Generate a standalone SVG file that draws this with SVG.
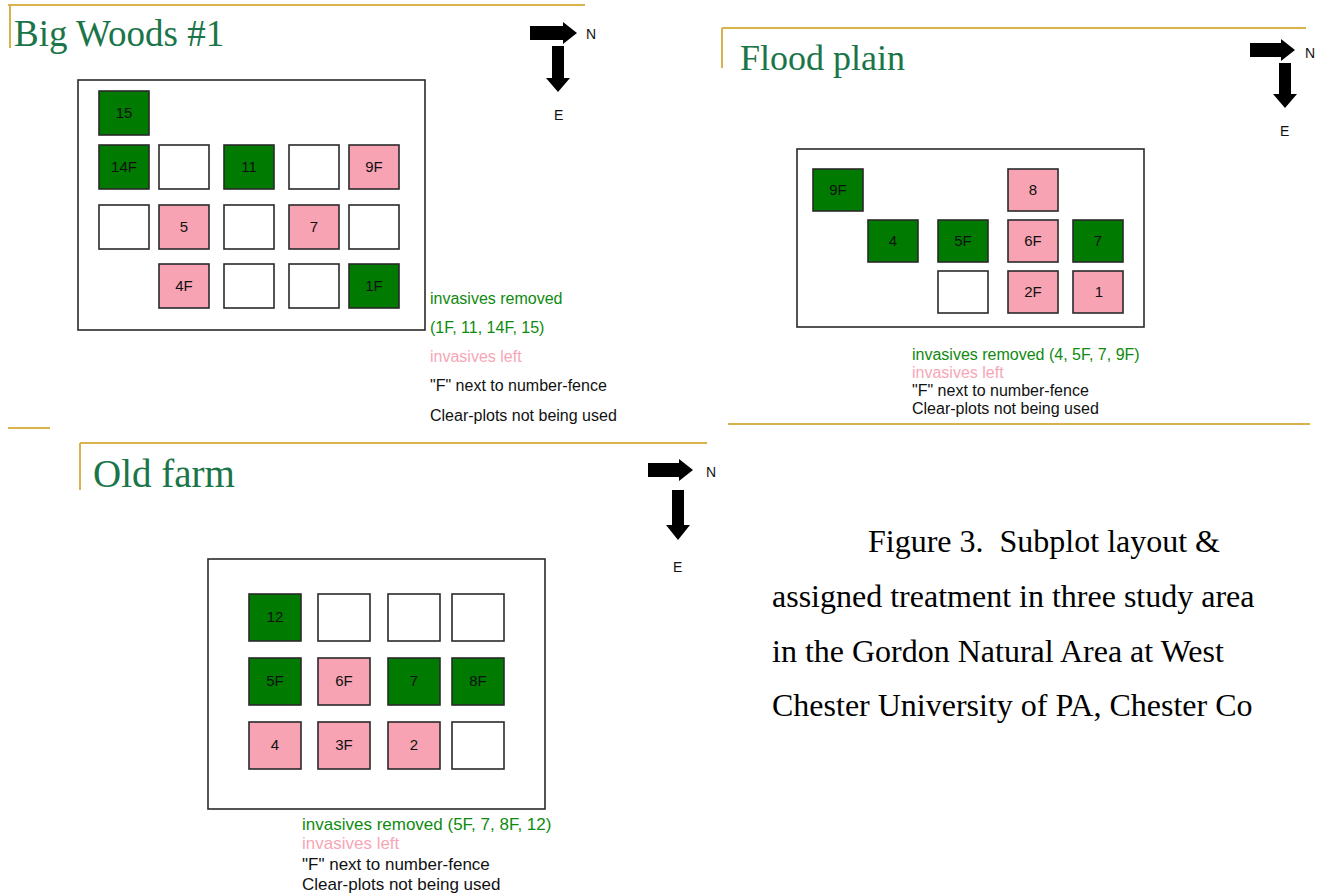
<svg xmlns="http://www.w3.org/2000/svg" width="1324" height="894" viewBox="0 0 1324 894">
<style>
.bg{fill:#ffffff}
.gold{stroke:#d8b24a;stroke-width:2;fill:none}
.title{font-family:"Liberation Serif",serif;fill:#1a7548}
.frame{fill:#ffffff;stroke:#2a2a2a;stroke-width:1.6}
.gr{fill:#007a00;stroke:#2a2a2a;stroke-width:1.6}
.pk{fill:#f8a3b3;stroke:#2a2a2a;stroke-width:1.6}
.em{fill:#ffffff;stroke:#2a2a2a;stroke-width:1.6}
.lbl{font-family:"Liberation Sans",Arial,sans-serif;font-size:15px;fill:#111;text-anchor:middle}
.leg{font-family:"Liberation Sans",Arial,sans-serif;font-size:16px}
.lg{fill:#0f8a0f}
.lp{fill:#f7a6b6}
.lk{fill:#111}
.arr{fill:#000}
.cmp{font-family:"Liberation Sans",Arial,sans-serif;font-size:14px;fill:#111}
.cap{font-family:"Liberation Serif","Times New Roman",serif;font-size:32px;fill:#000;white-space:pre}
</style>
<rect class="bg" x="0" y="0" width="1324" height="894"/>

<!-- Big Woods #1 -->
<g id="big-woods">
  <path class="gold" d="M8 5 H585 M10 5 V48"/>
  <text class="title" x="14" y="46" font-size="37">Big Woods #1</text>
  <g id="bw-compass">
    <polygon class="arr" points="530,26 563,26 563,22 577,33 563,44 563,40 530,40"/>
    <polygon class="arr" points="552,46 564,46 564,78 570,78 558,92 546,78 552,78"/>
    <text class="cmp" x="586" y="39">N</text>
    <text class="cmp" x="554" y="120">E</text>
  </g>
  <rect class="frame" x="78" y="80" width="347" height="250"/>
  <g id="bw-15"><rect class="gr" x="99" y="91" width="50" height="44"/><text class="lbl" x="124" y="118">15</text></g>
  <g id="bw-14F"><rect class="gr" x="99" y="145" width="50" height="44"/><text class="lbl" x="124" y="172">14F</text></g>
  <g id="bw-r2c2"><rect class="em" x="159" y="145" width="50" height="44"/></g>
  <g id="bw-11"><rect class="gr" x="224" y="145" width="50" height="44"/><text class="lbl" x="249" y="172">11</text></g>
  <g id="bw-r2c4"><rect class="em" x="289" y="145" width="50" height="44"/></g>
  <g id="bw-9F"><rect class="pk" x="349" y="145" width="50" height="44"/><text class="lbl" x="374" y="172">9F</text></g>
  <g id="bw-r3c1"><rect class="em" x="99" y="205" width="50" height="44"/></g>
  <g id="bw-5"><rect class="pk" x="159" y="205" width="50" height="44"/><text class="lbl" x="184" y="232">5</text></g>
  <g id="bw-r3c3"><rect class="em" x="224" y="205" width="50" height="44"/></g>
  <g id="bw-7"><rect class="pk" x="289" y="205" width="50" height="44"/><text class="lbl" x="314" y="232">7</text></g>
  <g id="bw-r3c5"><rect class="em" x="349" y="205" width="50" height="44"/></g>
  <g id="bw-4F"><rect class="pk" x="159" y="264" width="50" height="44"/><text class="lbl" x="184" y="291">4F</text></g>
  <g id="bw-r4c3"><rect class="em" x="224" y="264" width="50" height="44"/></g>
  <g id="bw-r4c4"><rect class="em" x="289" y="264" width="50" height="44"/></g>
  <g id="bw-1F"><rect class="gr" x="349" y="264" width="50" height="44"/><text class="lbl" x="374" y="291">1F</text></g>
  <g id="bw-legend" class="leg">
    <text class="lg" x="430" y="304">invasives removed</text>
    <text class="lg" x="430" y="333">(1F, 11, 14F, 15)</text>
    <text class="lp" x="430" y="362">invasives left</text>
    <text class="lk" x="430" y="391">"F" next to number-fence</text>
    <text class="lk" x="430" y="421">Clear-plots not being used</text>
  </g>
</g>
<path class="gold" d="M8 428 H50"/>

<!-- Flood plain -->
<g id="flood-plain">
  <path class="gold" d="M722 28 H1306 M722 28 V68"/>
  <path class="gold" d="M728 424 H1310"/>
  <text class="title" x="740" y="70" font-size="36">Flood plain</text>
  <g id="fp-compass">
    <polygon class="arr" points="1250,43 1281,43 1281,39 1295,50 1281,61 1281,57 1250,57"/>
    <polygon class="arr" points="1279,63 1291,63 1291,94 1297,94 1285,108 1273,94 1279,94"/>
    <text class="cmp" x="1305" y="58">N</text>
    <text class="cmp" x="1280" y="136">E</text>
  </g>
  <rect class="frame" x="797" y="149" width="347" height="178"/>
  <g id="fp-9F"><rect class="gr" x="813" y="169" width="50" height="42"/><text class="lbl" x="838" y="195">9F</text></g>
  <g id="fp-8"><rect class="pk" x="1008" y="169" width="50" height="42"/><text class="lbl" x="1033" y="195">8</text></g>
  <g id="fp-4"><rect class="gr" x="868" y="220" width="50" height="42"/><text class="lbl" x="893" y="246">4</text></g>
  <g id="fp-5F"><rect class="gr" x="938" y="220" width="50" height="42"/><text class="lbl" x="963" y="246">5F</text></g>
  <g id="fp-6F"><rect class="pk" x="1008" y="220" width="50" height="42"/><text class="lbl" x="1033" y="246">6F</text></g>
  <g id="fp-7"><rect class="gr" x="1073" y="220" width="50" height="42"/><text class="lbl" x="1098" y="246">7</text></g>
  <g id="fp-r3c3"><rect class="em" x="938" y="271" width="50" height="42"/></g>
  <g id="fp-2F"><rect class="pk" x="1008" y="271" width="50" height="42"/><text class="lbl" x="1033" y="297">2F</text></g>
  <g id="fp-1"><rect class="pk" x="1073" y="271" width="50" height="42"/><text class="lbl" x="1099" y="297">1</text></g>
  <g id="fp-legend" class="leg">
    <text class="lg" x="912" y="360">invasives removed (4, 5F, 7, 9F)</text>
    <text class="lp" x="912" y="378">invasives left</text>
    <text class="lk" x="912" y="396">"F" next to number-fence</text>
    <text class="lk" x="912" y="414">Clear-plots not being used</text>
  </g>
</g>

<!-- Old farm -->
<g id="old-farm">
  <path class="gold" d="M80 443 H707 M80 443 V490"/>
  <text class="title" x="93" y="487" font-size="39">Old farm</text>
  <g id="of-compass">
    <polygon class="arr" points="648,463 679,463 679,459 693,470 679,481 679,477 648,477"/>
    <polygon class="arr" points="672,490 684,490 684,525 690,525 678,540 666,525 672,525"/>
    <text class="cmp" x="706" y="477">N</text>
    <text class="cmp" x="673" y="572">E</text>
  </g>
  <rect class="frame" x="208" y="559" width="337" height="250"/>
  <g id="of-12"><rect class="gr" x="249" y="594" width="52" height="47"/><text class="lbl" x="275" y="622">12</text></g>
  <g id="of-r1c2"><rect class="em" x="318" y="594" width="52" height="47"/></g>
  <g id="of-r1c3"><rect class="em" x="388" y="594" width="52" height="47"/></g>
  <g id="of-r1c4"><rect class="em" x="452" y="594" width="52" height="47"/></g>
  <g id="of-5F"><rect class="gr" x="249" y="658" width="52" height="47"/><text class="lbl" x="275" y="686">5F</text></g>
  <g id="of-6F"><rect class="pk" x="318" y="658" width="52" height="47"/><text class="lbl" x="344" y="686">6F</text></g>
  <g id="of-7"><rect class="gr" x="388" y="658" width="52" height="47"/><text class="lbl" x="414" y="686">7</text></g>
  <g id="of-8F"><rect class="gr" x="452" y="658" width="52" height="47"/><text class="lbl" x="478" y="686">8F</text></g>
  <g id="of-4"><rect class="pk" x="249" y="722" width="52" height="47"/><text class="lbl" x="275" y="750">4</text></g>
  <g id="of-3F"><rect class="pk" x="318" y="722" width="52" height="47"/><text class="lbl" x="344" y="750">3F</text></g>
  <g id="of-2"><rect class="pk" x="388" y="722" width="52" height="47"/><text class="lbl" x="414" y="750">2</text></g>
  <g id="of-r3c4"><rect class="em" x="452" y="722" width="52" height="47"/></g>
  <g id="of-legend" class="leg" font-size="17">
    <text class="lg" x="302" y="830" font-size="17">invasives removed (5F, 7, 8F, 12)</text>
    <text class="lp" x="302" y="849" font-size="17">invasives left</text>
    <text class="lk" x="302" y="870" font-size="17">"F" next to number-fence</text>
    <text class="lk" x="302" y="890" font-size="17">Clear-plots not being used</text>
  </g>
</g>

<!-- Caption -->
<g id="caption" class="cap">
  <text x="868" y="552" xml:space="preserve">Figure 3.  Subplot layout &amp;</text>
  <text x="772" y="607">assigned treatment in three study area</text>
  <text x="772" y="662">in the Gordon Natural Area at West</text>
  <text x="772" y="716">Chester University of PA, Chester Co</text>
</g>
</svg>
